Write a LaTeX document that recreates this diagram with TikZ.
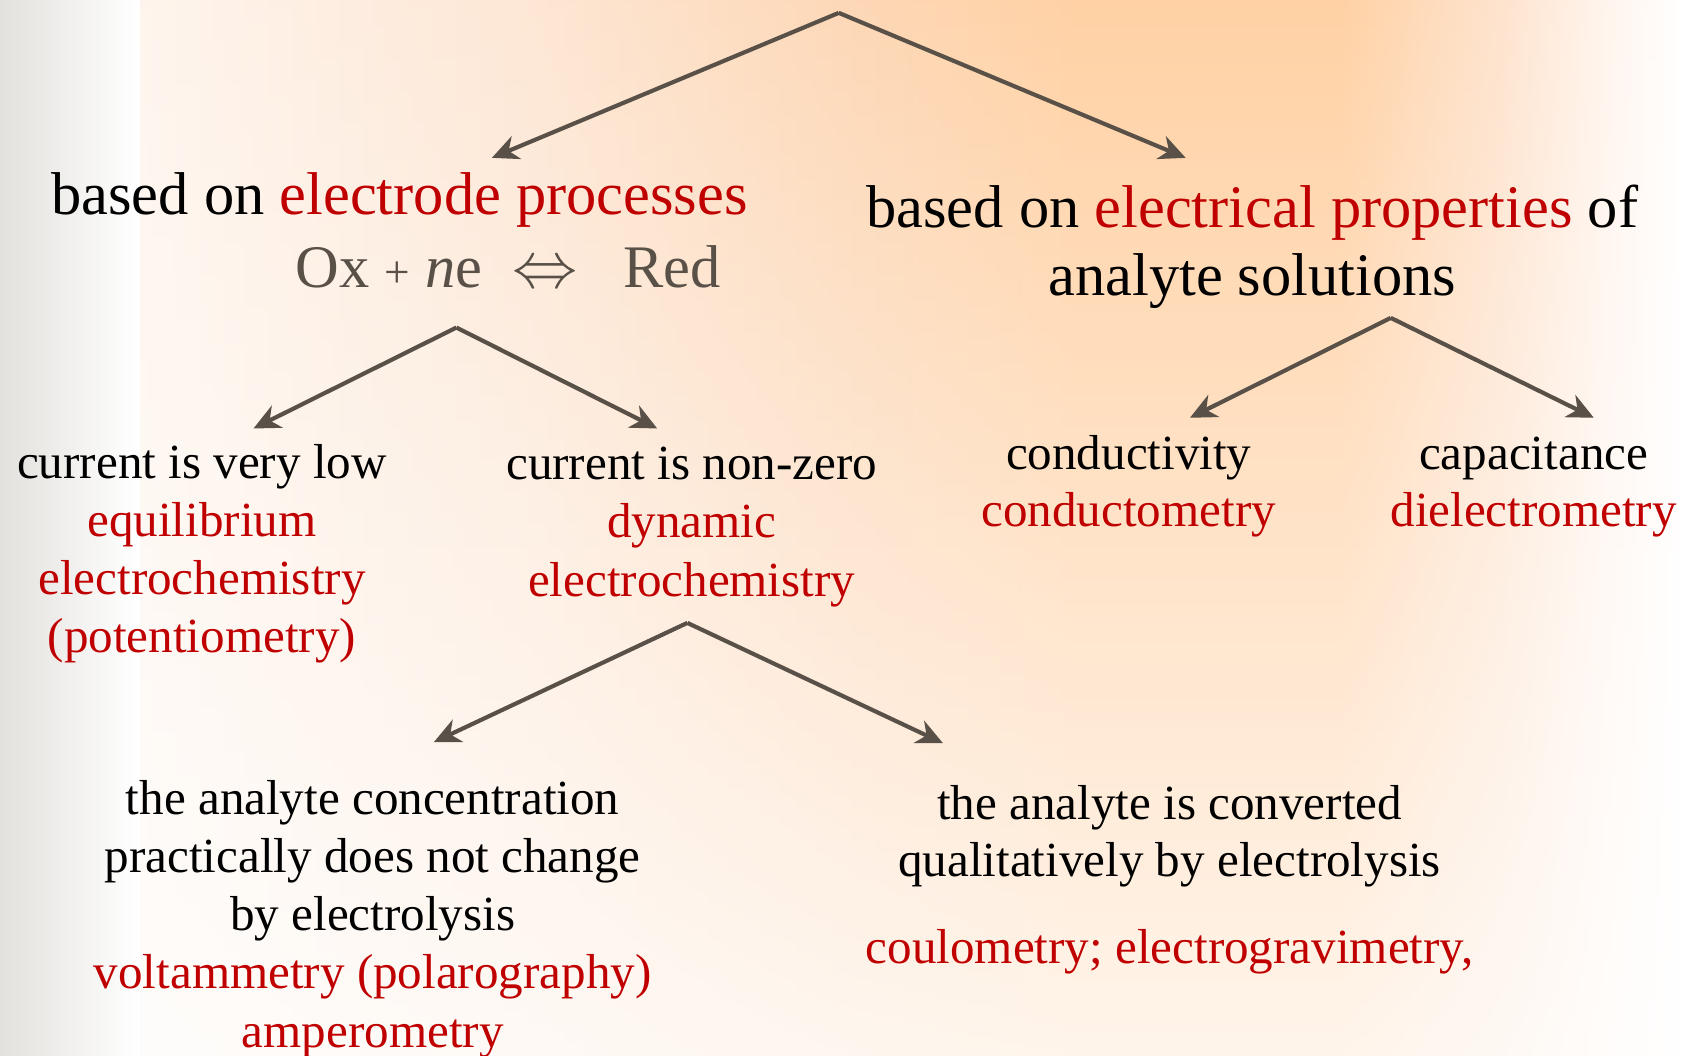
\documentclass[tikz,border=0pt]{standalone}
\usepackage{fontspec}
\setmainfont{Liberation Serif}
\usepackage{xcolor}
\usetikzlibrary{arrows.meta,fadings}
\definecolor{accent}{HTML}{C00000}
\definecolor{linegray}{HTML}{595048}
\definecolor{leftgray}{HTML}{E3E1DD}
\definecolor{peachA}{HTML}{FEF3EA}
\definecolor{peachB}{HTML}{FDE2CC}
\definecolor{peachC}{HTML}{FDD0A8}
\definecolor{peachD}{HTML}{FFC994}
\definecolor{peachE}{HTML}{FEDFC6}
\definecolor{peachF}{HTML}{FFF2E8}
\pgfdeclarehorizontalshading{peachband}{100bp}{%
    color(0bp)=(peachA); color(25bp)=(peachA); color(37.9bp)=(peachB);
    color(48.3bp)=(peachC); color(55.3bp)=(peachD); color(63.9bp)=(peachD);
    color(69.2bp)=(peachE); color(72.3bp)=(peachF); color(75bp)=(white);
    color(100bp)=(white)}
\newcommand{\term}[1]{\textcolor{accent}{#1}}
\tikzset{%
    >={Stealth[length=7pt,width=6.5pt,inset=2.2pt]},
    % Specifications for style of nodes:
    plain/.style = {inner sep=0pt, anchor=base, align=center},
    head/.style = {plain, font=\fontsize{16}{17.9}\selectfont},
    sub/.style = {plain, font=\fontsize{13}{15.4}\selectfont},
    branch/.style = {draw=linegray, line width=1.1pt, ->}
}
\begin{document}
\begin{tikzpicture}[x=0.01cm, y=-0.01cm]
    \useasboundingbox (0,0) rectangle (1568,983);
    \clip (0,0) rectangle (1568,983);
    % background
    \fill[white] (0,0) rectangle (1568,983);
    \shade[shading=peachband] (130,0) rectangle (1568,983);
    \fill[white, path fading=north] (130,-240) rectangle (1568,1260);
    \shade[left color=leftgray, right color=white] (0,0) rectangle (130,983);

    % first level
    \node[head] (electrode) at (372,200) {based on \term{electrode processes}};
    \node[head, text=linegray] (reaction) at (473,268) {Ox\hspace{4pt}{\fontsize{12}{12}\selectfont+}\hspace{4pt}\textit{n}e\hspace{8pt}$\Leftrightarrow$\hspace{12pt}Red};
    \node[head] (properties) at (1166,275) {based on \term{electrical properties} of\\ analyte solutions};

    % second level
    \node[sub] (low) at (188,608) {current is very low\\ \term{equilibrium}\\ \term{electrochemistry}\\ \term{(potentiometry)}};
    \node[sub] (nonzero) at (644,555) {current is non-zero\\ \term{dynamic}\\ \term{electrochemistry}};
    \node[sub, font=\fontsize{13}{15.1}\selectfont] (conductivity) at (1051,490) {conductivity\\ \term{conductometry}};
    \node[sub, font=\fontsize{13}{15.1}\selectfont] (capacitance) at (1428,490) {capacitance\\ \term{dielectrometry}};

    % third level
    \node[sub] (unchanged) at (347,975) {the analyte concentration\\ practically does not change\\ by electrolysis\\ \term{voltammetry (polarography)}\\ \term{amperometry}};
    \node[sub, font=\fontsize{13}{15.1}\selectfont] (converted) at (1089,897) {the analyte is converted\\ qualitatively by electrolysis\\[8pt] \term{coulometry; electrogravimetry,}};

    % branch points
    \coordinate (top) at (781,12);
    \coordinate (top-l) at (458,147);
    \coordinate (top-r) at (1104,147);
    \coordinate (proc) at (425,305);
    \coordinate (proc-l) at (236,399);
    \coordinate (proc-r) at (612,399);
    \coordinate (prop) at (1295,296);
    \coordinate (prop-l) at (1108,389);
    \coordinate (prop-r) at (1484,389);
    \coordinate (dyn) at (640,580);
    \coordinate (dyn-l) at (404,691);
    \coordinate (dyn-r) at (878,692);

    \foreach \from/\to in {top/top-l, top/top-r, proc/proc-l, proc/proc-r,
                           prop/prop-l, prop/prop-r, dyn/dyn-l, dyn/dyn-r}
        \draw[branch] (\from) -- (\to);
\end{tikzpicture}
\end{document}
